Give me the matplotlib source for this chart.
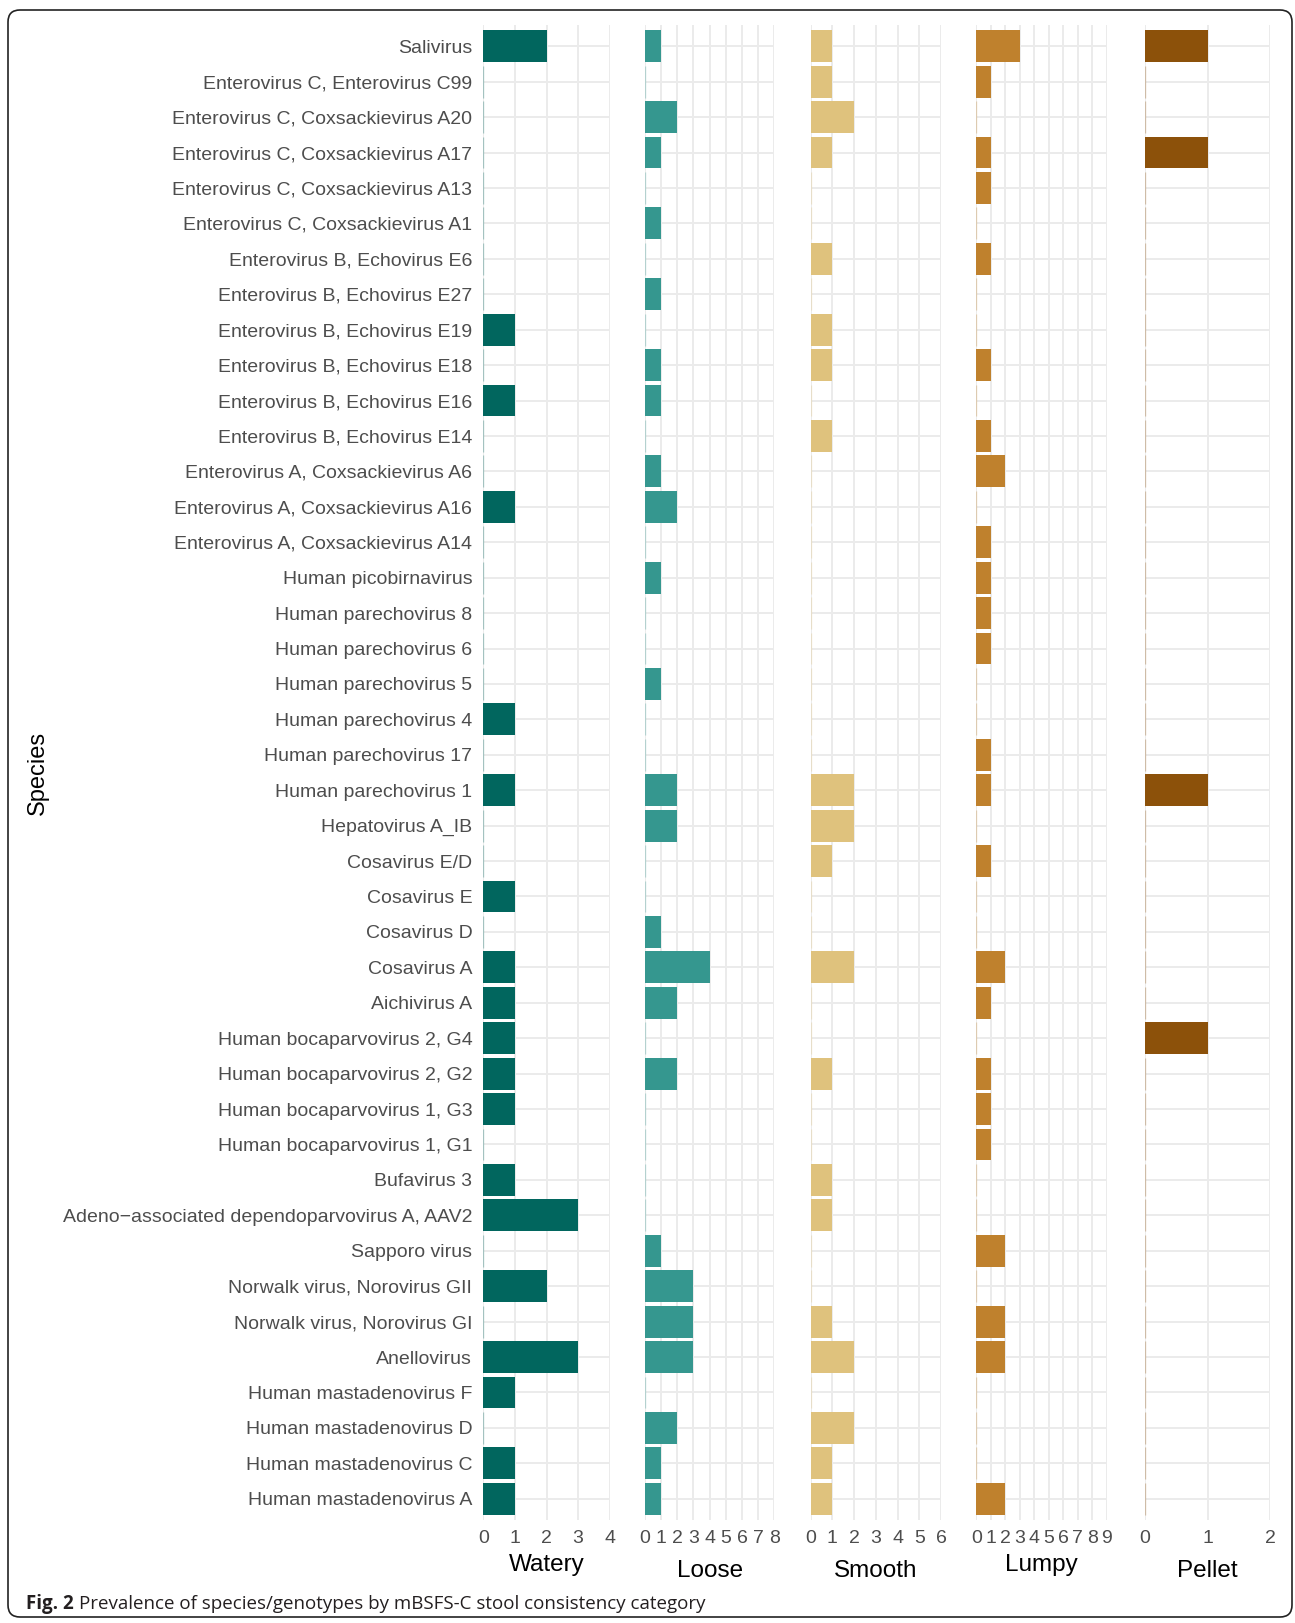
import matplotlib
matplotlib.use("Agg")
import matplotlib.pyplot as plt
from matplotlib.patches import FancyBboxPatch
import numpy as np

plt.rcParams['font.family'] = ['Liberation Sans', 'DejaVu Sans']

# species, top to bottom
species = [
    "Salivirus",
    "Enterovirus C, Enterovirus C99",
    "Enterovirus C, Coxsackievirus A20",
    "Enterovirus C, Coxsackievirus A17",
    "Enterovirus C, Coxsackievirus A13",
    "Enterovirus C, Coxsackievirus A1",
    "Enterovirus B, Echovirus E6",
    "Enterovirus B, Echovirus E27",
    "Enterovirus B, Echovirus E19",
    "Enterovirus B, Echovirus E18",
    "Enterovirus B, Echovirus E16",
    "Enterovirus B, Echovirus E14",
    "Enterovirus A, Coxsackievirus A6",
    "Enterovirus A, Coxsackievirus A16",
    "Enterovirus A, Coxsackievirus A14",
    "Human picobirnavirus",
    "Human parechovirus 8",
    "Human parechovirus 6",
    "Human parechovirus 5",
    "Human parechovirus 4",
    "Human parechovirus 17",
    "Human parechovirus 1",
    "Hepatovirus A_IB",
    "Cosavirus E/D",
    "Cosavirus E",
    "Cosavirus D",
    "Cosavirus A",
    "Aichivirus A",
    "Human bocaparvovirus 2, G4",
    "Human bocaparvovirus 2, G2",
    "Human bocaparvovirus 1, G3",
    "Human bocaparvovirus 1, G1",
    "Bufavirus 3",
    "Adeno\u2212associated dependoparvovirus A, AAV2",
    "Sapporo virus",
    "Norwalk virus, Norovirus GII",
    "Norwalk virus, Norovirus GI",
    "Anellovirus",
    "Human mastadenovirus F",
    "Human mastadenovirus D",
    "Human mastadenovirus C",
    "Human mastadenovirus A",
]

watery = [2, 0, 0, 0, 0, 0, 0, 0, 1, 0, 1, 0, 0, 1, 0, 0, 0, 0, 0, 1, 0,
          1, 0, 0, 1, 0, 1, 1, 1, 1, 1, 0, 1, 3, 0, 2, 0, 3, 1, 0, 1, 1]
loose = [1, 0, 2, 1, 0, 1, 0, 1, 0, 1, 1, 0, 1, 2, 0, 1, 0, 0, 1, 0, 0,
         2, 2, 0, 0, 1, 4, 2, 0, 2, 0, 0, 0, 0, 1, 3, 3, 3, 0, 2, 1, 1]
smooth = [1, 1, 2, 1, 0, 0, 1, 0, 1, 1, 0, 1, 0, 0, 0, 0, 0, 0, 0, 0, 0,
          2, 2, 1, 0, 0, 2, 0, 0, 1, 0, 0, 1, 1, 0, 0, 1, 2, 0, 2, 1, 1]
lumpy = [3, 1, 0, 1, 1, 0, 1, 0, 0, 1, 0, 1, 2, 0, 1, 1, 1, 1, 0, 0, 1,
         1, 0, 1, 0, 0, 2, 1, 0, 1, 1, 1, 0, 0, 2, 0, 2, 2, 0, 0, 0, 2]
pellet = [1, 0, 0, 1, 0, 0, 0, 0, 0, 0, 0, 0, 0, 0, 0, 0, 0, 0, 0, 0, 0,
          1, 0, 0, 0, 0, 0, 0, 1, 0, 0, 0, 0, 0, 0, 0, 0, 0, 0, 0, 0, 0]

categories = ["Watery", "Loose", "Smooth", "Lumpy", "Pellet"]
series = [watery, loose, smooth, lumpy, pellet]
x_max = [4, 8, 6, 9, 2]
colors = ["#01665E", "#35978F", "#DFC27D", "#BF812D", "#8C510A"]

W, H = 1295, 1623
fig = plt.figure(figsize=(W / 100, H / 100), dpi=100)

# panel extents in pixels (left, right)
panel_px = [(483.4, 609.7), (644.9, 774.3), (810.6, 941.0),
            (976.2, 1106.6), (1145.0, 1270.2)]
p_top, p_bot = 25, 1520
title_y = [1565, 1571, 1571, 1565, 1571]

n = len(species)
ypos = np.arange(n)[::-1] + 1
grid_c = "#EBEBEB"

for k, (cat, vals, xm, col) in enumerate(zip(categories, series, x_max, colors)):
    l, r = panel_px[k]
    ax = fig.add_axes([l / W, 1 - p_bot / H, (r - l) / W, (p_bot - p_top) / H])
    vals = np.array(vals)
    ax.barh(ypos, vals, height=0.9, color=col, linewidth=0, zorder=3)
    z = vals == 0
    ax.vlines(np.zeros(z.sum()), ypos[z] - 0.45, ypos[z] + 0.45,
              color=col, alpha=0.3, lw=1.0, zorder=3)
    ax.set_xlim(0, xm)
    ax.set_ylim(0.4, n + 0.6)
    ax.set_xticks(range(xm + 1))
    ax.set_yticks(ypos)
    ax.grid(True, color=grid_c, lw=1.4, zorder=0)
    ax.set_axisbelow(True)
    for s in ax.spines.values():
        s.set_visible(False)
    ax.tick_params(length=0, labelsize=14, labelcolor="#4D4D4D", pad=7)
    if k == 0:
        ax.set_yticklabels(species)
        ax.tick_params(axis="y", pad=8)
    else:
        ax.set_yticklabels([])
    fig.text((l + r) / 2 / W, 1 - title_y[k] / H, cat, ha="center", va="center",
             fontsize=17.5, color="black")

fig.text(38 / W, 1 - 773 / H, "Species", rotation=90, ha="center", va="center",
         fontsize=17, color="black")

# caption
cap_y = 1 - 1604 / H
t1 = fig.text(26 / W, cap_y, "Fig. 2", ha="left", va="center", fontsize=13.5,
              fontweight="bold", family="Open Sans", color="#231F20")
fig.canvas.draw()
bb = t1.get_window_extent()
fig.text((bb.x1 + 5) / W, cap_y,
         "Prevalence of species/genotypes by mBSFS-C stool consistency category",
         ha="left", va="center", fontsize=13.5, family="Open Sans", color="#231F20")

# frame
frame = FancyBboxPatch((8, H - 1617), 1284, 1607,
                       boxstyle="round,pad=0,rounding_size=12",
                       transform=None, facecolor="none", edgecolor="#222222",
                       linewidth=1.2)
fig.add_artist(frame)

fig.savefig("out.png", dpi=100)
